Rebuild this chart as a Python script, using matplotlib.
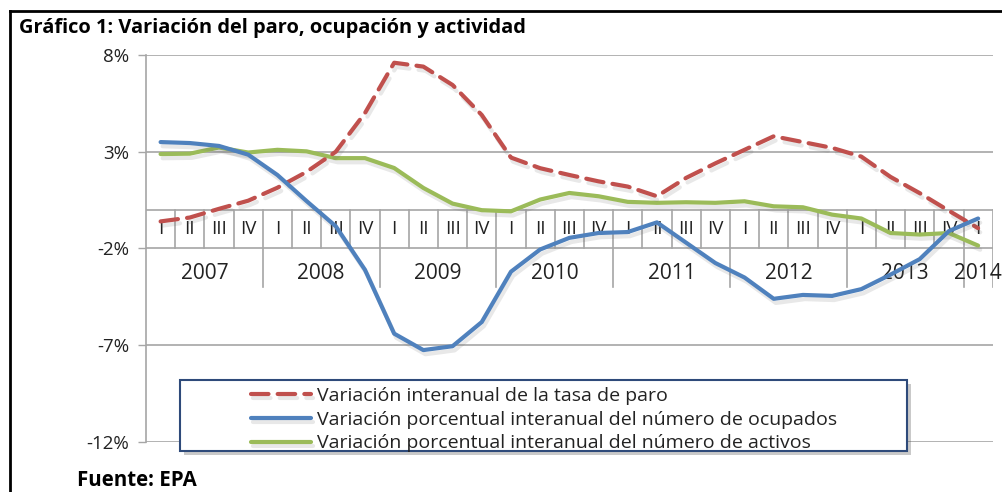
import numpy as np
import matplotlib
matplotlib.use('Agg')
import matplotlib.pyplot as plt
import matplotlib.patheffects as pe
from matplotlib.lines import Line2D
from matplotlib.patches import Rectangle

trimestres = ['I', 'II', 'III', 'IV'] * 7 + ['I']
anios = ['2007', '2008', '2009', '2010', '2011', '2012', '2013', '2014']

tasa_paro = [-0.6, -0.4, 0.05, 0.47, 1.14, 1.96, 3.0, 5.0, 7.6, 7.4, 6.45, 4.9,
             2.7, 2.15, 1.8, 1.47, 1.2, 0.7, 1.65, 2.4, 3.1, 3.8, 3.5, 3.2,
             2.75, 1.7, 0.86, -0.05, -0.95]
ocupados = [3.5, 3.45, 3.3, 2.85, 1.8, 0.45, -0.85, -3.1, -6.4, -7.25, -7.05, -5.8,
            -3.2, -2.05, -1.45, -1.2, -1.15, -0.65, -1.7, -2.75, -3.5, -4.6, -4.4, -4.45,
            -4.1, -3.35, -2.55, -1.1, -0.45]
activos = [2.88, 2.9, 3.22, 2.96, 3.1, 3.02, 2.67, 2.67, 2.16, 1.13, 0.32, -0.02,
           -0.08, 0.53, 0.87, 0.7, 0.41, 0.36, 0.39, 0.36, 0.44, 0.18, 0.13, -0.25,
           -0.45, -1.2, -1.28, -1.2, -1.85]

yticks = [8, 3, -2, -7, -12]

fuente = 'Open Sans'
gris = '#a6a6a6'

W, H = 1003, 492
fig = plt.figure(figsize=(W / 100, H / 100), dpi=100)
ax = fig.add_axes([146 / W, 1 - 442 / H, (992.7 - 146) / W, (442 - 55) / H])

n = len(trimestres)
x = np.arange(n) + 0.5

sombra = [pe.SimpleLineShadow(offset=(1.5, -3), shadow_color='#666666', alpha=0.15),
          pe.Normal()]
ax.plot(x, tasa_paro, color='#c0504d', lw=3, ls=(0, (4.2, 2.2)),
        dash_capstyle='round', path_effects=sombra, zorder=4,
        label='Variación interanual de la tasa de paro')
ax.plot(x, ocupados, color='#4f81bd', lw=3, solid_capstyle='round',
        path_effects=sombra, zorder=4,
        label='Variación porcentual interanual del número de ocupados')
ax.plot(x, activos, color='#9bbb59', lw=3, solid_capstyle='round',
        path_effects=sombra, zorder=3,
        label='Variación porcentual interanual del número de activos')

ax.set_xlim(0, n)
ax.set_ylim(-12, 8)
ax.set_xticks([])
ax.set_yticks(yticks)
ax.set_yticklabels([f'{v}%' for v in yticks], fontsize=13.5, family=fuente, color='#222222')
ax.tick_params(axis='y', length=6, width=1, color=gris, pad=6)
for s in ['top', 'right', 'bottom']:
    ax.spines[s].set_visible(False)
ax.spines['left'].set_color(gris)
ax.spines['left'].set_linewidth(1.2)

for v in [8, 3, -2, -7, -12]:
    ax.axhline(v, color=gris, lw=1.2, zorder=1)
ax.axhline(0, color=gris, lw=1.2, zorder=1)

# tabla de trimestres y años
for i in range(1, n + 1):
    if i % 4 == 0 or i == n:
        ax.plot([i, i], [0, -4.0], color=gris, lw=1.2, zorder=1)
    else:
        ax.plot([i, i], [0, -2], color=gris, lw=1.2, zorder=1)
for i, q in enumerate(trimestres):
    ax.text(i + 0.5, -1.0, q, ha='center', va='center', fontsize=13.5,
            family=fuente, color='#222222', zorder=2)
for j, a in enumerate(anios):
    xc = min(4 * j + 2, n - 0.5)
    ax.text(xc, -3.3, a, ha='center', va='center', fontsize=15,
            family=fuente, color='#222222', zorder=2)

# leyenda
caja = Rectangle((180 / W, 1 - 451 / H), (907 - 180) / W, (451 - 380) / H,
                 transform=fig.transFigure, facecolor='white', edgecolor='#2e4a7a',
                 lw=1.5, zorder=5,
                 path_effects=[pe.SimplePatchShadow(offset=(3, -3), alpha=0.3), pe.Normal()])
fig.add_artist(caja)
leg = fig.legend(loc='upper left', bbox_to_anchor=(240 / W, 1 - 376 / H),
                 frameon=False, prop={'family': fuente, 'size': 14},
                 handlelength=3.1, handletextpad=0.3, labelspacing=0.3,
                 borderpad=0.05)
leg.set_zorder(6)
for t in leg.get_texts():
    t.set_color('#222222')

fig.text(19 / W, 1 - 28 / H, 'Gráfico 1: Variación del paro, ocupación y actividad',
         ha='left', va='center', fontsize=14.4, fontweight='bold', family=fuente)
fig.text(77 / W, 1 - 481 / H, 'Fuente: EPA', ha='left', va='center',
         fontsize=14.8, fontweight='bold', family=fuente)

# marco exterior
fig.add_artist(Line2D([10 / W, 10 / W], [0, 1 - 11 / H], color='black', lw=2))
fig.add_artist(Line2D([10 / W, 1], [1 - 11 / H, 1 - 11 / H], color='black', lw=2))

fig.savefig('out.png', dpi=100)
